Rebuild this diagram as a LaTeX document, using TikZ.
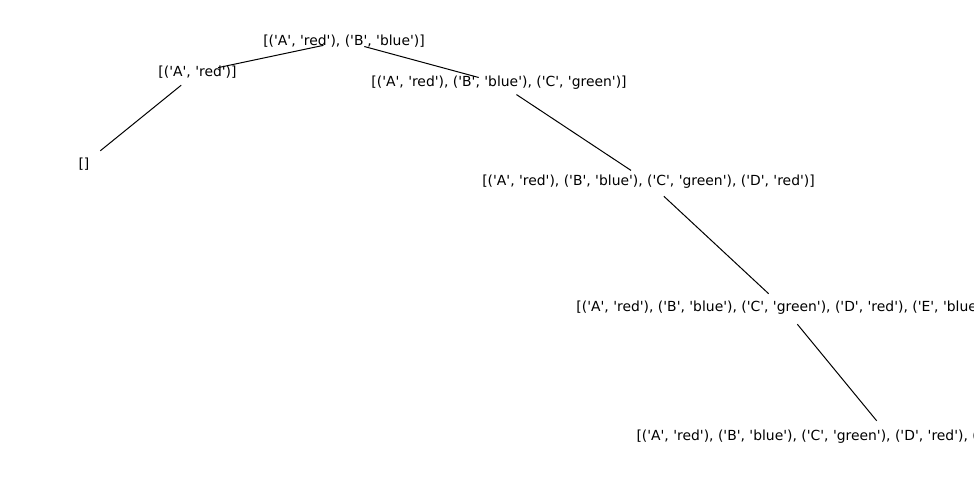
\documentclass[tikz,border=0pt]{standalone}
\usepackage{fontspec}
\setmainfont{DejaVu Sans}
\newcommand\sq{\textquotesingle}
\begin{document}
\begin{tikzpicture}[x=1pt,y=-1pt,
  lbl/.style={inner sep=0pt, font=\fontsize{13.9}{16}\selectfont},
  edge/.style={line width=1pt, shorten <=21pt, shorten >=21pt}]
\useasboundingbox (0,0) rectangle (974,480);
\clip (0,0) rectangle (974,480);
\node[lbl] (n0) at (344,41) {[(\sq A\sq, \sq red\sq), (\sq B\sq, \sq blue\sq)]};
\node[lbl] (n1) at (197.5,72) {[(\sq A\sq, \sq red\sq)]};
\node[lbl] (n2) at (84,164) {[]};
\node[lbl] (n3) at (499,83) {[(\sq A\sq, \sq red\sq), (\sq B\sq, \sq blue\sq), (\sq C\sq, \sq green\sq)]};
\node[lbl] (n4) at (648.5,182) {[(\sq A\sq, \sq red\sq), (\sq B\sq, \sq blue\sq), (\sq C\sq, \sq green\sq), (\sq D\sq, \sq red\sq)]};
\node[lbl] (n5) at (784,308) {[(\sq A\sq, \sq red\sq), (\sq B\sq, \sq blue\sq), (\sq C\sq, \sq green\sq), (\sq D\sq, \sq red\sq), (\sq E\sq, \sq blue\sq)]};
\node[lbl] (n6) at (890,437) {[(\sq A\sq, \sq red\sq), (\sq B\sq, \sq blue\sq), (\sq C\sq, \sq green\sq), (\sq D\sq, \sq red\sq), (\sq E\sq, \sq blue\sq), (\sq F\sq, \sq green\sq)]};
\draw[edge] (n0.center) -- (n1.center);
\draw[edge] (n1.center) -- (n2.center);
\draw[edge] (n0.center) -- (n3.center);
\draw[edge] (n3.center) -- (n4.center);
\draw[edge] (n4.center) -- (n5.center);
\draw[edge] (n5.center) -- (n6.center);
\end{tikzpicture}
\end{document}
